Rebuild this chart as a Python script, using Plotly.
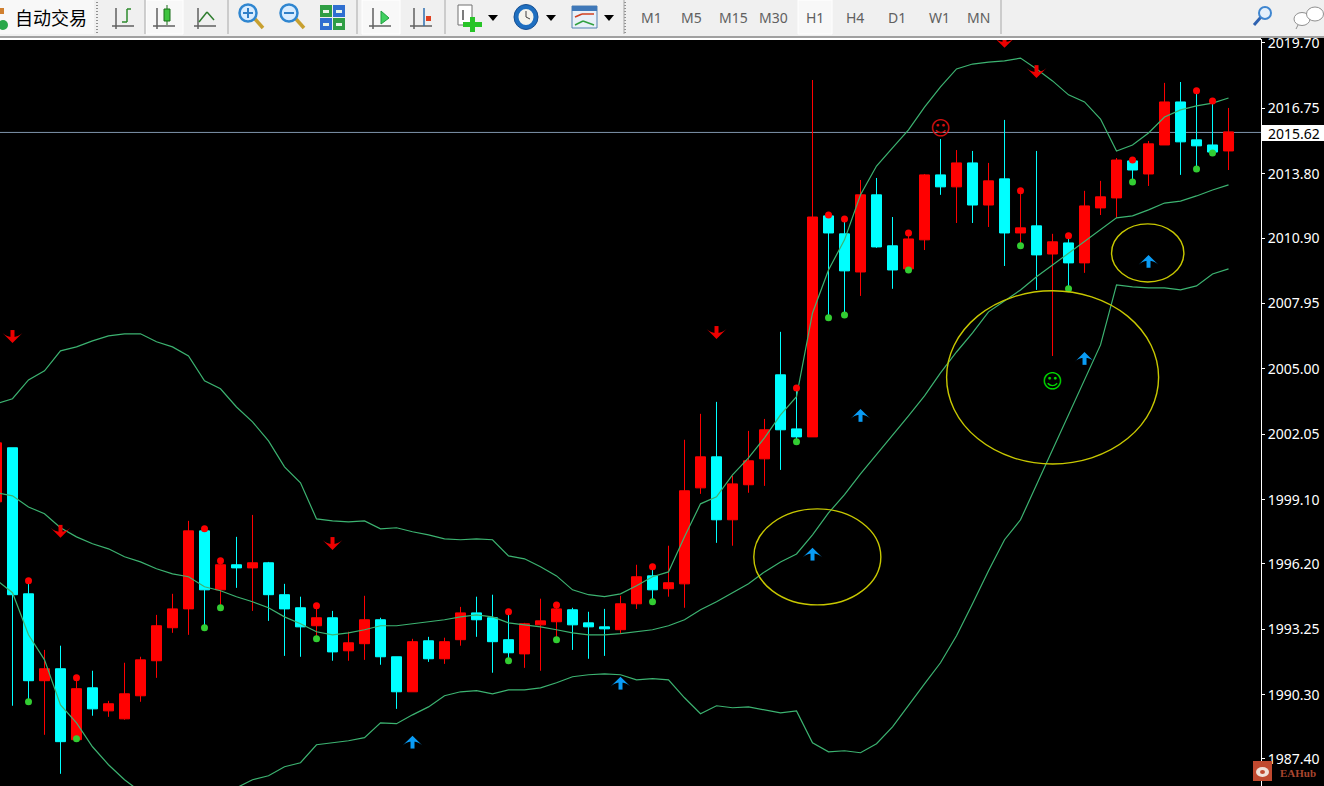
import plotly.graph_objects as go

# ---------- chart data (prices) ----------
bar_open = [1999.00,2001.44,1994.85,1990.93,1991.47,1988.27,1990.61,1989.57,1989.21,1990.25,
            1991.83,1993.32,1994.17,1997.69,1995.03,1996.16,1996.02,1996.25,1994.81,1994.22,
            1993.41,1993.77,1992.28,1992.60,1993.68,1992.01,1990.43,1992.73,1991.92,1992.78,
            1993.99,1993.77,1992.78,1992.14,1993.45,1993.59,1994.13,1993.54,1993.36,1993.23,
            1994.40,1995.66,1995.08,1995.30,1999.63,2001.03,1998.19,1999.77,2000.94,2004.73,
            2002.29,2001.93,2011.90,2011.09,2009.37,2012.85,2010.55,2009.51,2010.82,2013.75,
            2013.21,2014.29,2012.39,2013.57,2011.13,2011.45,2010.18,2010.68,2009.78,2012.26,
            2012.71,2014.38,2013.79,2015.10,2017.04,2015.33,2015.10,2014.83]
bar_high = [2001.66,2001.44,1995.35,1992.32,1992.51,1990.93,1991.38,1990.02,1991.74,1992.01,
            1993.90,1994.85,1998.14,1997.74,1996.29,1997.42,1998.41,1996.29,1995.30,1994.72,
            1994.22,1994.08,1993.14,1994.76,1993.77,1992.01,1992.82,1992.91,1992.87,1994.26,
            1994.72,1994.81,1993.99,1993.54,1994.63,1994.31,1994.22,1994.04,1994.17,1994.76,
            1996.16,1996.02,1997.02,2001.80,2002.97,2003.51,2000.17,2002.20,2002.74,2006.67,
            2004.14,2018.03,2011.94,2011.76,2013.52,2013.61,2011.85,2011.13,2013.79,2015.37,
            2014.87,2014.83,2014.29,2016.23,2013.03,2014.83,2011.09,2011.00,2013.03,2013.48,
            2014.51,2014.42,2015.28,2017.90,2017.94,2017.54,2017.08,2016.77]
bar_low = [1999.00,1989.80,1989.98,1988.49,1986.73,1988.27,1989.35,1989.30,1989.17,1989.98,
           1991.06,1993.09,1993.00,1993.32,1994.26,1995.12,1994.08,1993.63,1992.05,1992.01,
           1992.87,1991.83,1991.83,1991.87,1991.65,1989.66,1990.43,1991.78,1991.69,1992.51,
           1992.91,1991.29,1991.83,1991.51,1991.38,1992.78,1992.32,1991.92,1992.05,1993.05,
           1994.17,1994.49,1994.72,1994.22,1999.36,1997.15,1997.02,1999.41,1999.72,2000.44,
           2001.71,2001.93,2007.30,2007.43,2008.29,2010.46,2008.61,2009.46,2010.36,2012.85,
           2011.58,2011.58,2011.40,2009.64,2010.55,2008.56,2005.58,2008.61,2009.33,2011.94,
           2011.81,2013.43,2013.25,2015.10,2013.75,2014.02,2014.74,2013.97]
bar_close = [2001.66,1994.81,1990.93,1991.47,1988.18,1990.57,1989.66,1989.89,1990.34,1991.87,
             1993.41,1994.17,1997.69,1995.03,1996.16,1996.02,1996.25,1994.81,1994.17,1993.36,
             1993.77,1992.23,1992.64,1993.68,1992.01,1990.43,1992.69,1991.92,1992.69,1993.99,
             1993.68,1992.69,1992.19,1993.50,1993.63,1994.17,1993.45,1993.36,1993.27,1994.40,
             1995.62,1995.03,1995.35,1999.50,2001.03,1998.19,1999.81,2000.85,2002.25,2002.25,
             2001.93,2011.85,2011.13,2009.42,2012.85,2010.50,2009.46,2010.86,2013.75,2013.21,
             2014.29,2012.39,2013.48,2011.13,2011.36,2010.14,2010.73,2009.78,2012.35,2012.76,
             2014.42,2013.97,2015.15,2017.04,2015.24,2015.06,2014.78,2015.69]

band_upper = [2003.42,2003.65,2004.50,2004.91,2005.81,2005.99,2006.26,2006.49,2006.58,2006.58,
              2006.22,2005.99,2005.58,2004.46,2004.10,2003.28,2002.61,2001.75,2000.58,1999.86,
              1998.23,1998.14,1998.10,1998.14,1997.78,1997.83,1997.65,1997.51,1997.33,1997.29,
              1997.33,1997.29,1996.56,1996.43,1996.07,1995.66,1995.03,1994.81,1994.72,1994.85,
              1995.21,1995.62,1995.84,1997.42,1998.91,1999.23,2000.22,2000.98,2001.89,2002.92,
              2003.74,2007.52,2009.46,2010.82,2012.85,2014.15,2014.97,2015.78,2016.81,2017.72,
              2018.53,2018.75,2018.84,2018.89,2019.02,2018.53,2017.99,2017.36,2017.04,2016.27,
              2014.83,2015.10,2015.64,2016.36,2016.68,2016.86,2016.99,2017.22]
band_middle = [1999.41,1999.27,1998.77,1998.46,1997.83,1997.42,1997.11,1996.88,1996.52,1996.29,
               1995.98,1995.75,1995.62,1995.17,1994.99,1994.72,1994.49,1994.22,1993.81,1993.50,
               1993.14,1993.00,1993.09,1993.23,1993.41,1993.41,1993.50,1993.59,1993.68,1993.81,
               1993.90,1993.81,1993.54,1993.45,1993.36,1993.23,1993.09,1993.00,1993.00,1993.05,
               1993.14,1993.23,1993.41,1993.68,1994.13,1994.49,1994.90,1995.30,1995.84,1996.29,
               1996.65,1997.51,1998.50,1999.32,2000.26,2001.12,2001.98,2002.88,2003.78,2004.82,
               2005.76,2006.62,2007.57,2008.06,2008.56,2009.15,2009.69,2010.23,2010.73,2011.27,
               2011.81,2011.90,2012.17,2012.48,2012.57,2012.80,2013.07,2013.30]
band_lower = [1995.48,1994.90,1993.00,1991.87,1989.84,1989.03,1987.95,1987.14,1986.46,1985.92,
              1985.47,1985.20,1985.11,1985.29,1985.65,1986.10,1986.46,1986.64,1987.05,1987.23,
              1988.04,1988.13,1988.22,1988.36,1989.03,1988.99,1989.39,1989.75,1990.25,1990.43,
              1990.48,1990.34,1990.52,1990.52,1990.61,1990.84,1991.11,1991.20,1991.24,1991.20,
              1990.97,1991.02,1990.97,1990.16,1989.44,1989.80,1989.71,1989.75,1989.62,1989.48,
              1989.57,1988.13,1987.72,1987.77,1987.68,1988.09,1988.85,1989.84,1990.79,1991.74,
              1992.96,1994.40,1995.89,1997.29,1998.19,1999.77,2001.34,2002.92,2004.55,2006.08,
              2008.79,2008.70,2008.65,2008.65,2008.56,2008.74,2009.28,2009.51]

dot_bars = [2,5,13,14,20,32,35,41,50,52,53,57,64,67,71,75,76]
dot_red = [1995.44,1991.06,1997.78,1996.34,1994.31,1994.04,1994.35,1996.07,2004.14,2011.94,
           2011.76,2011.13,2013.03,2011.00,2014.42,2017.54,2017.08]
dot_green = [1989.98,1988.31,1993.32,1994.22,1992.82,1991.83,1992.78,1994.49,2001.71,2007.30,
             2007.43,2009.46,2010.55,2008.61,2013.43,2014.02,2014.74]

down_bars = [1,4,21,45,63,65]
down_tips = [2006.17,1997.38,1996.83,2006.35,2019.48,2018.12]
up_bars = [26,39,51,54,68,72]
up_tips = [1988.45,1991.11,1996.93,2003.19,2005.76,2010.14]

smile_bars = [59,66]
smile_prices = [2015.78,2004.37]

ellipse_bars = [(47.33,55.27),(59.38,72.63),(69.69,74.21)]
ellipse_prices = [(1994.35,1998.68),(2000.71,2008.52),(2008.92,2011.54)]

tick_values = [2019.70,2016.75,2013.80,2010.90,2007.95,2005.00,2002.05,1999.10,1996.20,1993.25,1990.30,1987.40]
tick_labels = ["2019.70","2016.75","2013.80","2010.90","2007.95","2005.00","2002.05","1999.10","1996.20","1993.25","1990.30","1987.40"]
current_line = 2015.665
current_label = "2015.62"
periods = ["M1","M5","M15","M30","H1","H4","D1","W1","MN"]
period_centres = [651,691,733,773,815,855,897,939,978]

# ---------- figure ----------
W, H, TOP, RIGHT = 1324, 786, 40, 1261
bars = list(range(len(bar_close)))
RED, CYAN, BAND = "#ff0000", "#00ffff", "#3cb371"

fig = go.Figure()
fig.add_trace(go.Candlestick(
    x=bars, open=bar_open, high=bar_high, low=bar_low, close=bar_close,
    increasing=dict(line=dict(color=RED, width=1), fillcolor=RED),
    decreasing=dict(line=dict(color=CYAN, width=1), fillcolor=CYAN),
    whiskerwidth=0, hoverinfo="skip", showlegend=False))
for band in (band_upper, band_middle, band_lower):
    fig.add_trace(go.Scatter(x=bars, y=band, mode="lines",
                             line=dict(color=BAND, width=1.2), hoverinfo="skip", showlegend=False))
fig.add_trace(go.Scatter(x=dot_bars, y=dot_red, mode="markers",
                         marker=dict(color=RED, size=7), hoverinfo="skip", showlegend=False))
fig.add_trace(go.Scatter(x=dot_bars, y=dot_green, mode="markers",
                         marker=dict(color="#32cd32", size=7), hoverinfo="skip", showlegend=False))


def arrows(xs, tips, color, angle, sign):
    sx, sy = [], []
    for x, t in zip(xs, tips):
        sx += [x, x, None]
        sy += [t + sign * 0.12, t + sign * 0.58, None]
    fig.add_trace(go.Scatter(x=sx, y=sy, mode="lines", line=dict(color=color, width=4),
                             hoverinfo="skip", showlegend=False))
    fig.add_trace(go.Scatter(x=xs, y=tips, mode="markers",
                             marker=dict(symbol="arrow-wide", angle=angle, size=14, color=color,
                                         line=dict(width=0)),
                             hoverinfo="skip", showlegend=False))


arrows(down_bars, down_tips, "#ee0000", 180, 1)
arrows(up_bars, up_tips, "#0a9cf5", 0, -1)

fig.add_trace(go.Scatter(x=smile_bars, y=smile_prices, mode="text", text=["☺", "☺"],
                         textposition="middle center",
                         textfont=dict(family="DejaVu Sans", size=20, color=["#d01010", "#00d800"]),
                         hoverinfo="skip", showlegend=False))

shapes = [dict(type="line", xref="paper", x0=0, x1=1, yref="y", y0=current_line, y1=current_line,
               line=dict(color="#7f95ab", width=1), layer="below")]
for (a, b), (c, d) in zip(ellipse_bars, ellipse_prices):
    shapes.append(dict(type="circle", xref="x", yref="y", x0=a, x1=b, y0=c, y1=d,
                       line=dict(color="#c8c800", width=1.4)))

annots = []


def px(x):
    return x / RIGHT


def py(y):
    return 1 - (y - TOP) / (H - TOP)


def rect(x0, y0, x1, y1, fill, line=None, lw=1):
    shapes.append(dict(type="rect", xref="paper", yref="paper", x0=px(x0), x1=px(x1), y0=py(y0), y1=py(y1),
                       fillcolor=fill, line=dict(color=line or fill, width=lw if line else 0)))


def seg(x0, y0, x1, y1, color, lw=1):
    shapes.append(dict(type="line", xref="paper", yref="paper", x0=px(x0), x1=px(x1), y0=py(y0), y1=py(y1),
                       line=dict(color=color, width=lw)))


def disc(x, y, rx, ry, fill, line=None, lw=1):
    shapes.append(dict(type="circle", xref="paper", yref="paper", x0=px(x - rx), x1=px(x + rx),
                       y0=py(y - ry), y1=py(y + ry), fillcolor=fill,
                       line=dict(color=line or fill, width=lw if line else 0)))


def label(x, y, text, size, color, family="Noto Sans", anchor="center", bold=False):
    annots.append(dict(xref="paper", yref="paper", x=px(x), y=py(y), text=f"<b>{text}</b>" if bold else text,
                       showarrow=False, xanchor=anchor, yanchor="middle",
                       font=dict(family=family, size=size, color=color)))


# toolbar
rect(0, 0, W, 36, "#f0f0f0")
rect(0, 36, W, 38, "#a0a0a0")
rect(0, 38, RIGHT, 40, "#ffffff")
for xa, xb in [(146, 183), (362, 400), (798, 832)]:
    rect(xa, 0, xb, 34, "#f8f8f8", "#ffffff")
rect(0, 0, 94, 34, "#f8f8f8")
for x in (97, 625):
    for y in range(2, 34, 3):
        rect(x - 1, y, x + 1, y + 1, "#909090")
for x in (145, 228, 357, 445, 624, 1001):
    seg(x, 0, x, 34, "#a8a8a8")
disc(3, 25, 5, 5, "#2aa84a")
rect(0, 8, 4, 14, "#d08030")
label(51, 17, "自动交易", 18, "#000000", "Noto Sans CJK SC")


def axes(x):
    seg(x - 7, 8, x - 7, 29, "#606060", 1.5)
    seg(x - 11, 26, x + 11, 26, "#606060", 1.5)


axes(123); seg(127, 9, 127, 22, "#2e8b2e", 1.5); seg(127, 22, 122, 22, "#2e8b2e", 1.5); seg(127, 9, 131, 9, "#2e8b2e", 1.5)
axes(164); seg(167, 5, 167, 25, "#1a6e1a", 1); rect(164, 9, 170, 21, "#3fc43f", "#1a6e1a")
axes(205); seg(199, 22, 207, 12, "#2e7d2e", 1.5); seg(207, 12, 214, 20, "#2e7d2e", 1.5)

# zoom buttons
seg(255, 19, 263, 28, "#c8a030", 3.5)
disc(248, 13, 8.5, 8.5, "#d8ecff", "#2f86d0", 2.5)
seg(243, 13, 253, 13, "#2f7fc8", 2); seg(248, 8, 248, 18, "#2f7fc8", 2)
seg(296, 19, 304, 28, "#c8a030", 3.5)
disc(289, 13, 8.5, 8.5, "#d8ecff", "#2f86d0", 2.5)
seg(284, 13, 294, 13, "#2f7fc8", 2)
rect(320, 5, 332, 17, "#2f9e44"); rect(333, 5, 345, 17, "#2f6fd0")
rect(320, 18, 332, 30, "#2f6fd0"); rect(333, 18, 345, 30, "#2f9e44")
for x0, y0 in [(323, 10), (336, 10), (323, 23), (336, 23)]:
    rect(x0, y0, x0 + 6, y0 + 3, "#e8f4e8")

axes(380); shapes.append(dict(type="path", xref="paper", yref="paper", line=dict(color="#20a040", width=1),
                              fillcolor="#40d060",
                              path=f"M {px(381)} {py(11)} L {px(389)} {py(18)} L {px(381)} {py(24)} Z"))
axes(421); seg(424, 8, 424, 26, "#2f6fb0", 1.5); rect(426, 16, 431, 21, "#e04020")

# new order
rect(458, 5, 472, 25, "#ffffff", "#707070")
seg(463, 10, 463, 20, "#505050", 1.5)
rect(470, 17, 475, 32, "#28c428")
rect(463, 22, 482, 27, "#28c428")


def tri(x):
    shapes.append(dict(type="path", xref="paper", yref="paper", line=dict(width=0), fillcolor="#000000",
                       path=f"M {px(x - 5)} {py(15)} L {px(x + 5)} {py(15)} L {px(x)} {py(21)} Z"))


tri(493); tri(551); tri(609)
disc(526, 17, 12, 12.5, "#1f6fc0", "#174f90", 1)
disc(526, 17, 7.5, 8, "#f4f4ec")
seg(526, 17, 526, 11, "#404040", 1); seg(526, 17, 530, 19, "#404040", 1)
rect(572, 6, 597, 28, "#e8f0f8", "#5080b0")
rect(572, 6, 597, 11, "#3f78b8")
seg(575, 17, 582, 14, "#d04020", 1.5); seg(582, 14, 594, 14, "#d04020", 1.5)
seg(575, 25, 583, 21, "#30a040", 1.5); seg(583, 21, 594, 25, "#30a040", 1.5)

for name, cx in zip(periods, period_centres):
    label(cx, 17, name, 14, "#606060")

# search and chat
seg(1261, 17, 1254, 25, "#2f62b0", 3)
disc(1265, 13, 6, 6, "#e4f0fb", "#3f86d0", 2)
disc(1302, 19, 8, 6.5, "#ffffff", "#909090", 1)
seg(1298, 25, 1296, 29, "#909090", 1)
disc(1315, 14, 8.5, 7, "#ffffff", "#909090", 1)

# current price box
rect(1262, 125, W, 141, "#ffffff")
label(1266, 133, current_label, 14, "#000000", anchor="left")

# watermark
rect(1253, 761, 1272, 781, "#c0492f")
disc(1262.5, 772, 6.5, 5, "#f0e0d8")
disc(1262.5, 772, 2.5, 2, "#c0492f")
label(1278, 773, "EAHub", 11, "#a8462f", "Liberation Serif", anchor="left", bold=True)

fig.update_layout(
    width=W, height=H, autosize=False,
    margin=dict(l=0, r=W - RIGHT, t=TOP, b=0, pad=0),
    paper_bgcolor="#000000", plot_bgcolor="#000000",
    boxgap=0.375, boxgroupgap=0, hovermode=False,
    shapes=shapes, annotations=annots,
    xaxis=dict(range=[0.21875, 79.03], rangeslider=dict(visible=False), side="top",
               showticklabels=False, ticks="", showgrid=False, zeroline=False,
               showline=True, linecolor="#ffffff", linewidth=1),
    yaxis=dict(range=[1986.18, 2019.835], side="right", tickmode="array",
               tickvals=tick_values, ticktext=tick_labels, ticks="outside", ticklen=3,
               tickcolor="#ffffff", showgrid=False, zeroline=False,
               showline=True, linecolor="#ffffff", linewidth=1,
               tickfont=dict(family="Noto Sans", size=14, color="#ffffff")),
)

fig.write_html("out.html", config=dict(displayModeBar=False),
               post_script="document.body.style.margin='0';document.body.style.overflow='hidden';")
